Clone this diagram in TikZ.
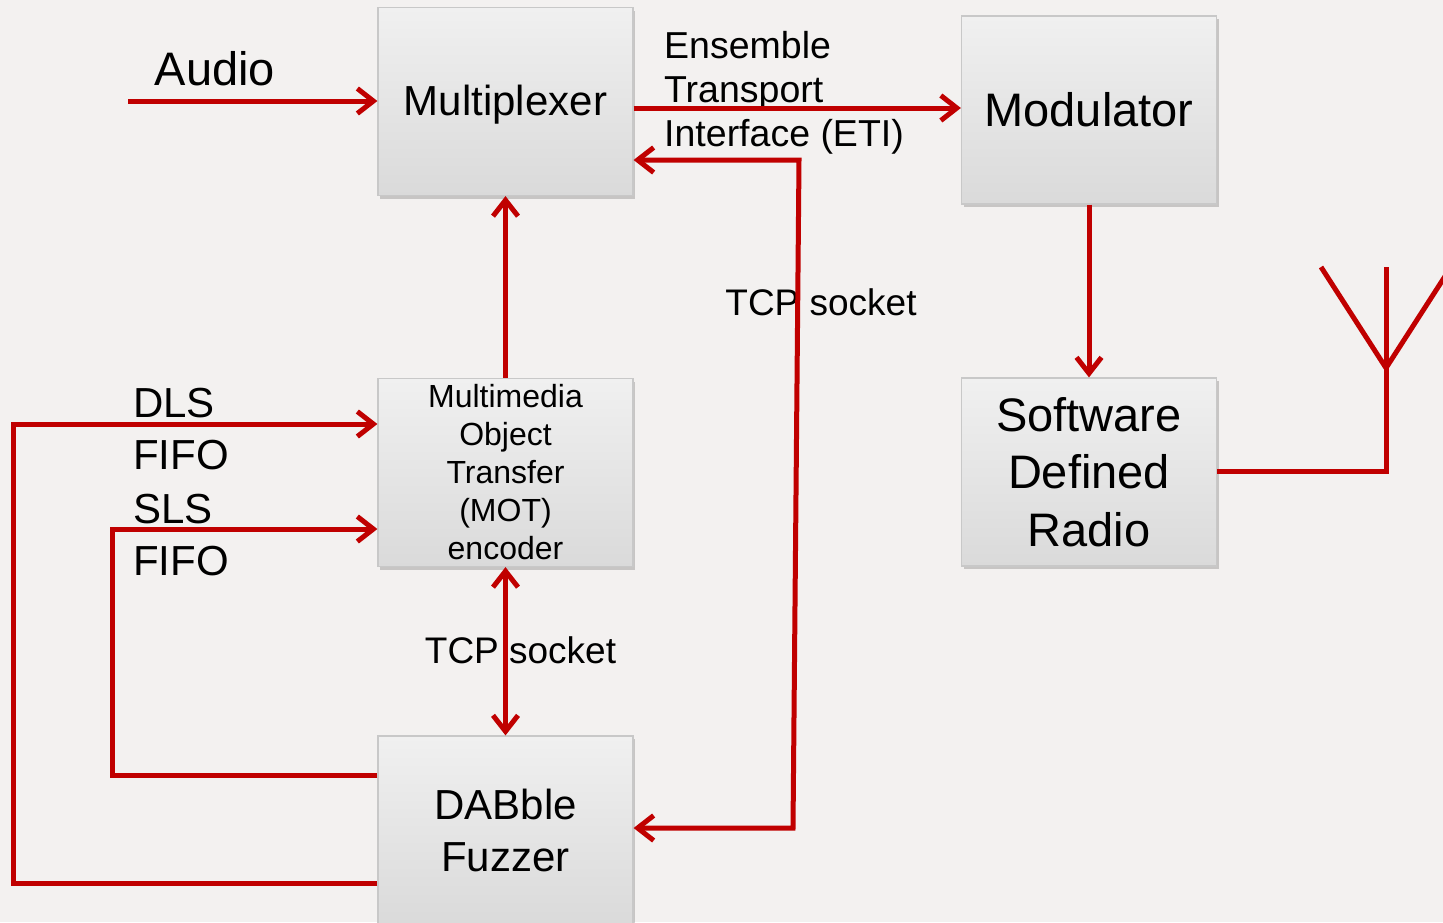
\documentclass[tikz,border=0pt]{standalone}
\usepackage{fontspec}
\setmainfont{Liberation Sans}
\usetikzlibrary{arrows.meta,shadows,calc}
\definecolor{arrred}{RGB}{192,0,0}
\definecolor{bgc}{RGB}{243,241,240}
\definecolor{boxtop}{RGB}{240,240,240}
\definecolor{boxbot}{RGB}{218,218,218}
\definecolor{boxline}{RGB}{200,200,200}
\newcommand\fsz[2]{\fontsize{#1}{#2}\selectfont}
\begin{document}
\begin{tikzpicture}[x=1pt,y=-1pt,
  blk/.style={rectangle, draw=boxline, line width=1.2pt, top color=boxtop, bottom color=boxbot,
    minimum width=255pt, minimum height=188pt, inner sep=0pt, align=center,
    drop shadow={shadow xshift=2pt, shadow yshift=-3pt, opacity=0.18, fill=black}},
  con/.style={draw=arrred, line width=5pt},
  tip/.style={},
  arr/.style={con, -{Straight Barb[length=16pt,width=25pt]}},
  arr2/.style={con, {Straight Barb[length=16pt,width=25pt]}-{Straight Barb[length=16pt,width=25pt]}},
  lbl/.style={inner sep=0pt, text=black}
]
\useasboundingbox (0,0) rectangle (1443,922);
\clip (0,0) rectangle (1443,922);
\fill[bgc] (0,0) rectangle (1443,922);

% boxes
\node[blk, font=\fsz{42}{52}, text depth=3pt] (mux) at (505.5,101.5) {Multiplexer};
\node[blk, font=\fsz{47}{57}] (mod) at (1089,110) {Modulator};
\node[blk, font=\fsz{32}{38}] (mot) at (505.5,472.5) {Multimedia\\Object\\Transfer\\(MOT)\\encoder};
\node[blk, font=\fsz{47}{57.5}] (sdr) at (1089,472) {Software\\Defined\\Radio};
\node[blk, font=\fsz{42}{52}] (fuz) at (505.5,830) {DABble\\Fuzzer};

% labels
\node[lbl, font=\fsz{47}{57}, anchor=base] (audio) at (215,85) {Audio};
\node[lbl, font=\fsz{42}{52}, anchor=base west] (dls) at (133,417) {DLS};
\node[lbl, font=\fsz{42}{52}, anchor=base west] (fifo1) at (133,469.5) {FIFO};
\node[lbl, font=\fsz{42}{52}, anchor=base west] (sls) at (133,523) {SLS};
\node[lbl, font=\fsz{42}{52}, anchor=base west] (fifo2) at (133,575) {FIFO};
\node[lbl, font=\fsz{37.5}{44}, anchor=base west] (eti1) at (664,58) {Ensemble};
\node[lbl, font=\fsz{37.5}{44}, anchor=base west] (eti2) at (664,102) {Transport};
\node[lbl, font=\fsz{37.5}{44}, anchor=base west] (eti3) at (664,146) {Interface (ETI)};
\node[lbl, font=\fsz{37}{44}, anchor=base] (tcp1) at (821,315) {TCP socket};
\node[lbl, font=\fsz{37}{44}, anchor=base] (tcp2) at (520.5,663) {TCP socket};

% helper coordinates
\coordinate (audioS) at (128,101);
\coordinate (etiY) at (700,108);
\coordinate (tcpT) at (799,160);
\coordinate (tcpB) at (793,828);
\coordinate (dlsB) at (13,883);
\coordinate (dlsT) at (13,424);
\coordinate (slsB) at (112,775);
\coordinate (slsT) at (112,529);
\coordinate (antB) at (1386,471);
\coordinate (antA) at (1386,368);
\coordinate (antT) at (1386,267);
\coordinate (antL) at (1321,267);
\coordinate (antR) at (1451,267);

% connectors
\draw[arr] (audioS) -- (audioS -| mux.west);
\draw[arr] (mux.east |- etiY) -- (mod.west |- etiY);
\draw[arr2] (mux.east |- tcpT) -- (tcpT) -- (tcpB) -- (tcpB -| fuz.east);
\draw[arr] (mot.north) -- (mux.south);
\draw[arr2] (mot.south) -- (fuz.north);
\draw[arr] (mod.south) -- (sdr.north);
\draw[arr] (fuz.west |- slsB) -- (slsB) -- (slsT) -- (slsT -| mot.west);
\draw[arr] (fuz.west |- dlsB) -- (dlsB) -- (dlsT) -- (dlsT -| mot.west);
\draw[con] (sdr.east |- antB) -- (antB) -- (antT);
\draw[con] (antL) -- (antA) -- (antR);
\end{tikzpicture}
\end{document}
